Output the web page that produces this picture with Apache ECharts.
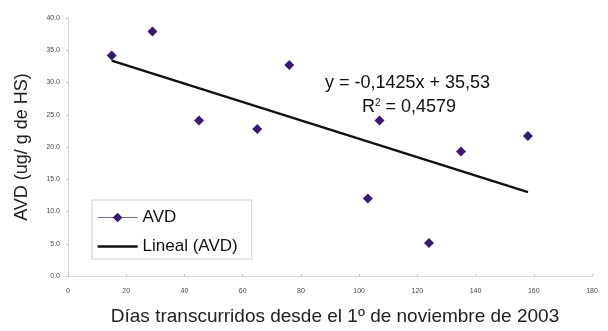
<!DOCTYPE html>
<html><head><meta charset="utf-8">
<script src="https://cdn.jsdelivr.net/npm/echarts@6/dist/echarts.min.js"></script>
<style>html,body{margin:0;padding:0;background:#fff}#c{width:608px;height:331px}</style>
</head><body><div id="c"></div>
<script>
var daysX = [15, 29, 45, 65, 76, 103, 107, 124, 135, 158];
var avdY = [34.2, 37.9, 24.1, 22.8, 32.7, 12.0, 24.1, 5.1, 19.3, 21.7];
var trendX = [15, 158];
var trendY = [33.39, 13.01];
var xTicks = [0, 20, 40, 60, 80, 100, 120, 140, 160, 180];
var yTicks = [0, 5, 10, 15, 20, 25, 30, 35, 40];
var eqLine1 = 'y = -0,1425x + 35,53';
var eqLine2 = 'R{s|2} = 0,4579';

var font = '"Liberation Sans", Arial, sans-serif';
var chart = echarts.init(document.getElementById('c'));
chart.setOption({
  animation: false,
  textStyle: {fontFamily: font},
  grid: {left: 68, right: 16, top: 18, bottom: 49},
  xAxis: {
    type: 'value', min: 0, max: 180, interval: 20,
    name: 'Días transcurridos desde el 1º de noviembre de 2003',
    nameLocation: 'middle', nameGap: 31,
    nameTextStyle: {fontSize: 19, color: '#222', fontFamily: font, padding: [0, 0, 0, 10]},
    axisLine: {lineStyle: {color: '#d8d8d8'}},
    axisTick: {show: true, inside: true, length: 2, lineStyle: {color: '#bbb'}},
    axisLabel: {fontSize: 7, color: '#444', margin: 12},
    splitLine: {show: false}
  },
  yAxis: {
    type: 'value', min: 0, max: 40, interval: 5,
    name: 'AVD (ug/ g de HS)',
    nameLocation: 'middle', nameGap: 37, nameRotate: 90,
    nameTextStyle: {fontSize: 18, color: '#222', fontFamily: font},
    axisLine: {show: true, lineStyle: {color: '#d8d8d8'}},
    axisTick: {show: true, length: 2, lineStyle: {color: '#bbb'}},
    axisLabel: {fontSize: 7, color: '#444', margin: 8, formatter: function(v){return v.toFixed(1);}},
    splitLine: {show: false}
  },
  legend: {
    orient: 'vertical', left: 92, top: 200,
    backgroundColor: '#fff',
    borderColor: '#d0d0d0', borderWidth: 1,
    padding: [9, 14, 4, 5], itemGap: 12,
    itemWidth: 40, itemHeight: 12,
    textStyle: {fontSize: 17, color: '#111', fontFamily: font},
    data: [
      {name: 'AVD', lineStyle: {width: 1.2, color: '#7a62b8', opacity: 1}, itemStyle: {color: '#3a1a70'}},
      {name: 'Lineal (AVD)', icon: 'path://M0,0H40V2.5H0Z', lineStyle: {width: 2.5, color: '#111', opacity: 1}, itemStyle: {color: '#111', opacity: 1}}
    ]
  },
  series: [
    {
      name: 'AVD', type: 'line',
      data: daysX.map(function(x, i){return [x, avdY[i]];}),
      symbol: 'diamond', symbolSize: 10, showSymbol: true,
      lineStyle: {width: 0, opacity: 0},
      itemStyle: {color: '#3a1a70'},
      z: 3
    },
    {
      name: 'Lineal (AVD)', type: 'line',
      data: trendX.map(function(x, i){return [x, trendY[i]];}),
      symbol: 'none',
      itemStyle: {color: '#111'},
      lineStyle: {width: 2.5, color: '#111'},
      z: 2
    }
  ],
  graphic: [
    {type: 'text', left: 325, top: 74, style: {text: eqLine1, fill: '#111', font: '18px ' + font}},
    {type: 'text', left: 362, top: 98, style: {text: eqLine2, fontSize: 18, fill: '#111', fontFamily: font,
      rich: {s: {fontSize: 10, verticalAlign: 'top', padding: [0,0,8,0], fill: '#111', fontFamily: font}}}}
  ]
});
</script></body></html>
